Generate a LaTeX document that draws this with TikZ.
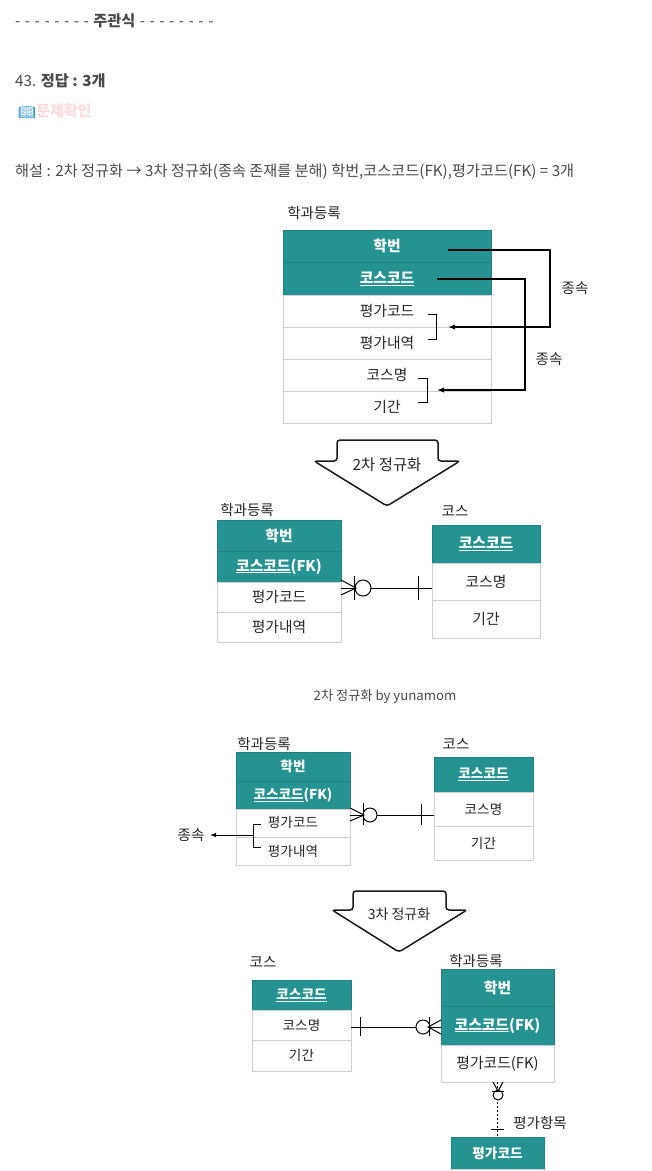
\documentclass[tikz,border=0pt]{standalone}
\usepackage{fontspec}
\setmainfont{Noto Sans CJK KR}
\newfontfamily\emojifont{Noto Emoji}
\usetikzlibrary{arrows.meta}
\definecolor{tealhead}{HTML}{249391}
\definecolor{cellline}{HTML}{CFCFCF}
\definecolor{pagetext}{HTML}{4A4A4A}
\definecolor{quizpink}{HTML}{FBDADA}
\tikzset{
  headcell/.style={fill=tealhead, draw=tealhead!88!black, line width=0.5pt, anchor=north west, inner sep=0pt, outer sep=0pt, text=white, font=\fontsize{14.8}{17}\selectfont\bfseries},
  bodycell/.style={fill=white, draw=cellline, line width=0.8pt, anchor=north west, inner sep=0pt, outer sep=0pt, text=black!85, font=\fontsize{14.8}{17}\selectfont},
  smallhead/.style={headcell, font=\fontsize{13.6}{16}\selectfont\bfseries},
  smallbody/.style={bodycell, font=\fontsize{13.6}{16}\selectfont},
  tablename/.style={text=black!85, inner sep=0pt, font=\fontsize{14.5}{17}\selectfont},
  pageline/.style={anchor=west, inner sep=0pt, text=pagetext, font=\fontsize{15.2}{18}\selectfont},
  wire/.style={draw=black, line width=1.3pt},
  erline/.style={draw=black, line width=1pt},
  block/.style={draw=black!90, line width=1.5pt, rounded corners=3pt, fill=white},
}
\begin{document}
\begin{tikzpicture}[x=1pt, y=-1pt]
\useasboundingbox (0,0) rectangle (652,1171);
\fill[white] (0,0) rectangle (652,1171);

% text on top of the page
\node[pageline] (quizhead) at (15,21) {\spaceskip=4.5pt - - - - - - - - \textbf{주관식} - - - - - - - -};
\node[pageline] (answer) at (15,81) {43. \textbf{정답 : 3개}};
\node[pageline, text=cyan!70!blue, font=\emojifont\fontsize{14}{17}\selectfont] (bookicon) at (18,113) {📖};
\node[pageline, text=quizpink, font=\fontsize{15}{18}\selectfont\bfseries] (quizlink) at (36,111) {문제확인};
\node[pageline] (explain) at (15,172) {해설 : 2차 정규화 → 3차 정규화(종속 존재를 분해) 학번,코스코드(FK),평가코드(FK) = 3개};

% first table
\node[tablename] (nameA) at (314,213) {학과등록};
\node[headcell, minimum width=208, minimum height=32] (aHak) at (283,230) {학번};
\node[headcell, minimum width=208, minimum height=33] (aCode) at (283,262) {\underline{코스코드}};
\node[bodycell, minimum width=208, minimum height=32] (aGrade) at (283,295) {평가코드};
\node[bodycell, minimum width=208, minimum height=32] (aDesc) at (283,327) {평가내역};
\node[bodycell, minimum width=208, minimum height=32] (aName) at (283,359) {코스명};
\node[bodycell, minimum width=208, minimum height=32] (aTerm) at (283,391) {기간};
\node[tablename] (depA) at (575,288) {종속};
\node[tablename] (depB) at (549,359) {종속};
\coordinate (hakOut) at (448,250);
\coordinate (gradeIn) at (448,327);
\coordinate (codeOut) at (437,279);
\coordinate (nameIn) at (437,390);
\draw[wire, -{Latex[length=7pt]}] (hakOut) -- (550,250) -- (550,327) -- (gradeIn);
\draw[wire, -{Latex[length=7pt]}] (codeOut) -- (525,279) -- (525,390) -- (nameIn);
\draw[erline] (428,314) -- (436,314) -- (436,339) -- (428,339);
\draw[erline] (418,378) -- (427,378) -- (427,402) -- (418,402);

% 2nd normal form arrow
\draw[block] (337,461) -- (337,440) -- (438,440) -- (438,461) -- (460,461) -- (387,506) -- (314,461) -- cycle;
\node[text=black!85, font=\fontsize{15.4}{18}\selectfont] (stepTwo) at (387,465) {2차 정규화};

% second pair of tables
\node[tablename] (nameB) at (247,510.5) {학과등록};
\node[tablename] (nameC) at (455,510.5) {코스};
\node[headcell, minimum width=124, minimum height=31] (bHak) at (217,520) {학번};
\node[headcell, minimum width=124, minimum height=31] (bCode) at (217,551) {\underline{코스코드}(FK)};
\node[bodycell, minimum width=124, minimum height=30] (bGrade) at (217,582) {평가코드};
\node[bodycell, minimum width=124, minimum height=30] (bDesc) at (217,612) {평가내역};
\node[headcell, minimum width=108, minimum height=38] (cCode) at (432,525) {\underline{코스코드}};
\node[bodycell, minimum width=108, minimum height=37] (cName) at (432,563) {코스명};
\node[bodycell, minimum width=108, minimum height=38] (cTerm) at (432,600) {기간};
\coordinate (relBl) at (341,588);
\coordinate (relBr) at (432,588);
\draw[erline] (relBl) -- (relBr);
\draw[erline, fill=white] (363,588) circle (8);
\draw[erline] (354,576) -- (354,600);
\draw[erline] (341,580) -- (356,588) -- (341,595);
\draw[erline] (418,576) -- (418,600);
\node[text=pagetext, font=\fontsize{13.2}{16}\selectfont] (caption) at (385,697) {2차 정규화 by yunamom};

% third pair of tables
\node[tablename] (nameD) at (264,744) {학과등록};
\node[tablename] (nameE) at (456,744) {코스};
\node[smallhead, minimum width=114, minimum height=29] (dHak) at (236,752) {학번};
\node[smallhead, minimum width=114, minimum height=28] (dCode) at (236,781) {\underline{코스코드}(FK)};
\node[smallbody, minimum width=114, minimum height=28] (dGrade) at (236,809) {};
\node[smallbody, minimum width=114, minimum height=28] (dDesc) at (236,837) {};
\node[smallbody, draw=none, fill=none, anchor=center] (dGradeText) at (293,822) {평가코드};
\node[smallbody, draw=none, fill=none, anchor=center] (dDescText) at (293,851) {평가내역};
\node[smallhead, minimum width=99, minimum height=35] (eCode) at (434,757) {\underline{코스코드}};
\node[smallbody, minimum width=99, minimum height=34] (eName) at (434,792) {코스명};
\node[smallbody, minimum width=99, minimum height=34] (eTerm) at (434,826) {기간};
\coordinate (relDl) at (350,815);
\coordinate (relDr) at (434,815);
\draw[erline] (relDl) -- (relDr);
\draw[erline, fill=white] (370,815) circle (7);
\draw[erline] (363,803) -- (363,825);
\draw[erline] (350,808) -- (364,815) -- (350,821);
\draw[erline] (421,804) -- (421,825);
\node[tablename] (depC) at (191,835) {종속};
\coordinate (depOut) at (210,835);
\draw[erline] (261,824) -- (253,824) -- (253,847) -- (261,847);
\draw[erline, -{Latex[length=6pt]}] (253,835) -- (depOut);

% 3rd normal form arrow
\draw[block] (353,910) -- (353,891) -- (446,891) -- (446,910) -- (467,910) -- (399,952) -- (332,910) -- cycle;
\node[text=black!85, font=\fontsize{14}{17}\selectfont] (stepThree) at (399,914) {3차 정규화};

% last tables
\node[tablename] (nameF) at (263,962) {코스};
\node[tablename] (nameG) at (476,961) {학과등록};
\node[smallhead, minimum width=99, minimum height=30] (fCode) at (252,980) {\underline{코스코드}};
\node[smallbody, minimum width=99, minimum height=30] (fName) at (252,1010) {코스명};
\node[smallbody, minimum width=99, minimum height=31] (fTerm) at (252,1040) {기간};
\node[headcell, minimum width=113, minimum height=37] (gHak) at (441,969) {학번};
\node[headcell, minimum width=113, minimum height=39] (gCode) at (441,1006) {\underline{코스코드}(FK)};
\node[bodycell, minimum width=113, minimum height=37] (gGrade) at (441,1045) {평가코드(FK)};
\node[smallhead, minimum width=93, minimum height=32] (hCode) at (451,1137) {평가코드};
\node[smallbody, minimum width=93, minimum height=6] (hRest) at (451,1169) {};
\coordinate (relFl) at (351,1027);
\coordinate (relFr) at (441,1027);
\draw[erline] (relFl) -- (relFr);
\draw[erline] (360,1017) -- (360,1036);
\draw[erline, fill=white] (423,1027) circle (7);
\draw[erline] (429,1017) -- (429,1036);
\draw[erline] (441,1020) -- (428,1027) -- (441,1034);
\coordinate (relGt) at (497,1082);
\coordinate (relGb) at (497,1137);
\draw[erline, dash pattern=on 2pt off 2pt] (relGt) -- (relGb);
\draw[erline, fill=white] (498,1095) circle (5);
\draw[erline] (492,1091) -- (504,1091);
\draw[erline] (493,1082) -- (498,1091) -- (503,1082);
\draw[erline] (491,1129) -- (504,1129);
\node[tablename] (gradeItem) at (540,1123) {평가항목};
\end{tikzpicture}
\end{document}
